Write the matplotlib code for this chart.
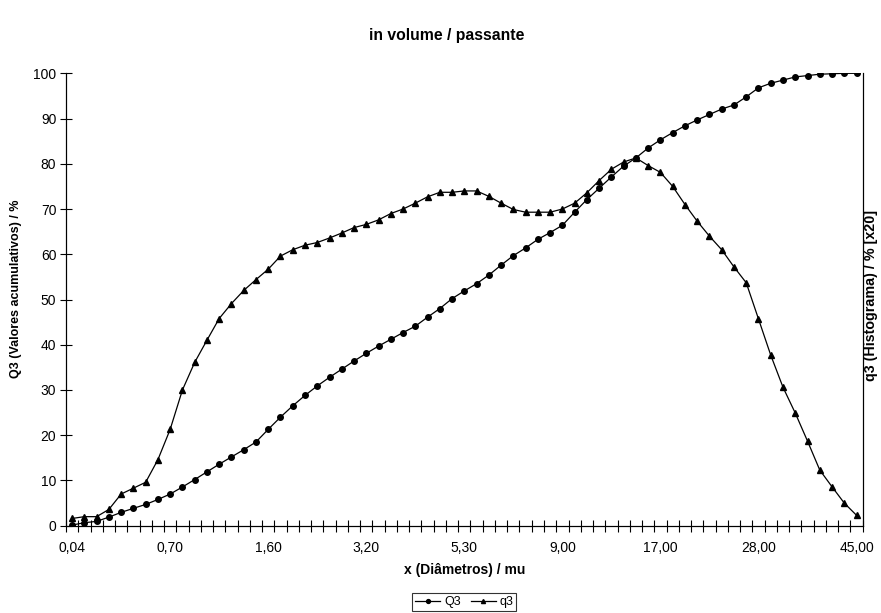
import matplotlib
matplotlib.use("Agg")
import matplotlib.pyplot as plt
from matplotlib.ticker import FixedLocator, NullFormatter

plt.rcParams['font.family'] = ['Liberation Sans', 'DejaVu Sans']

# classes de diâmetro (mu)
diametros = ["0,04", "0,07", "0,10", "0,20", "0,30", "0,40", "0,50", "0,60",
             "0,70", "0,80", "0,90", "1,00", "1,10", "1,20", "1,30", "1,40",
             "1,60", "1,80", "2,00", "2,20", "2,40", "2,60", "2,80", "3,00",
             "3,20", "3,40", "3,60", "3,80", "4,00", "4,30", "4,60", "5,00",
             "5,30", "5,60", "6,00", "6,50", "7,00", "7,50", "8,00", "8,50",
             "9,00", "10,00", "11,00", "12,00", "13,00", "14,00", "15,00", "16,00",
             "17,00", "18,00", "19,00", "20,00", "22,00", "24,00", "26,00", "27,00",
             "28,00", "30,00", "32,00", "34,00", "36,00", "38,00", "40,00", "43,00",
             "45,00"]

# Q3 acumulado (%)
Q3 = [0.15, 0.66, 0.96, 1.9, 2.95, 3.84, 4.7, 5.8, 7.0, 8.56,
      10.2, 11.9, 13.6, 15.2, 16.8, 18.5, 21.3, 24.0, 26.5, 28.8,
      30.9, 32.8, 34.6, 36.4, 38.1, 39.7, 41.2, 42.7, 44.1, 46.1,
      48.0, 50.2, 51.9, 53.5, 55.4, 57.6, 59.7, 61.4, 63.3, 64.8,
      66.4, 69.3, 72.1, 74.6, 77.1, 79.5, 81.3, 83.5, 85.3, 86.9,
      88.4, 89.7, 90.9, 92.1, 93.0, 94.8, 96.8, 97.8, 98.5, 99.2,
      99.5, 99.8, 99.9, 100.0, 100.0]

# q3 histograma x20 (%)
q3 = [1.6, 2.0, 2.0, 3.6, 7.0, 8.3, 9.6, 14.6, 21.3, 30.0,
      36.1, 41.0, 45.8, 49.1, 52.0, 54.4, 56.7, 59.6, 61.0, 62.0,
      62.6, 63.6, 64.7, 65.9, 66.6, 67.6, 69.0, 70.0, 71.3, 72.7,
      73.7, 73.7, 74.0, 74.0, 72.8, 71.3, 69.9, 69.3, 69.3, 69.3,
      70.0, 71.3, 73.6, 76.3, 78.8, 80.4, 81.3, 79.6, 78.1, 75.0,
      71.0, 67.3, 64.0, 61.0, 57.2, 53.7, 45.7, 37.7, 30.6, 24.9,
      18.7, 12.3, 8.6, 5.0, 2.3]

fig = plt.figure(figsize=(8.81, 6.13), dpi=100)
ax = fig.add_axes([0.0749, 0.1424, 0.9043, 0.738])

x = list(range(len(diametros)))
ax.plot(x, Q3, color='black', lw=0.9, marker='o', ms=4, label='Q3')
ax.plot(x, q3, color='black', lw=0.9, marker='^', ms=4.2, label='q3')

ax.set_xlim(-0.5, len(diametros) - 0.5)
ax.set_ylim(0, 100)
ax.set_yticks(range(0, 101, 10))
ax.tick_params(axis='y', direction='inout', length=8, width=0.8, labelsize=10, pad=3)

# rótulos a cada 8 classes, traços entre as classes
ax.set_xticks(x[::8])
ax.set_xticklabels(diametros[::8])
ax.tick_params(axis='x', which='major', length=0, labelsize=10, pad=11)
ax.xaxis.set_minor_locator(FixedLocator([i - 0.5 for i in range(len(diametros) + 1)]))
ax.xaxis.set_minor_formatter(NullFormatter())
ax.tick_params(axis='x', which='minor', direction='inout', length=8, width=0.8)

ax.spines['top'].set_visible(False)
for s in ['left', 'bottom', 'right']:
    ax.spines[s].set_linewidth(0.8)

ax.set_title('in volume / passante', fontsize=11.3, fontweight='bold', pad=24, x=0.478)
ax.set_xlabel('x (Diâmetros) / mu', fontsize=10, fontweight='bold', labelpad=6)
ax.set_ylabel('Q3 (Valores acumulativos) / %', fontsize=9, fontweight='bold', labelpad=8)
ax.yaxis.label.set_y(0.523)

ax2 = ax.twinx()
ax2.set_ylim(0, 100)
ax2.set_yticks([])
ax2.spines['top'].set_visible(False)
ax2.spines['right'].set_linewidth(0.8)
ax2.set_ylabel('q3 (Histograma) / % [x20]', fontsize=10.3, fontweight='bold', labelpad=1)
ax2.yaxis.label.set_y(0.509)

leg = ax.legend(loc='upper center', bbox_to_anchor=(0.5, -0.135), ncol=2, fontsize=9,
                frameon=True, fancybox=False, edgecolor='black', handlelength=2.0,
                handletextpad=0.3, columnspacing=0.8, borderpad=0.25, markerscale=0.7)
leg.get_frame().set_linewidth(0.8)

fig.savefig('out.png', dpi=100)
